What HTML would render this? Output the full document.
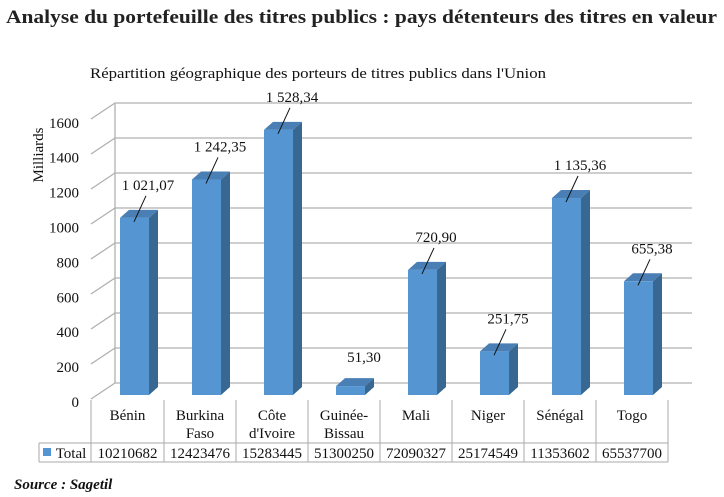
<!DOCTYPE html>
<html><head><meta charset="utf-8"><style>
body{margin:0;background:#fff;}
svg{display:block;font-family:"Liberation Serif",serif;}
</style></head><body>
<svg width="724" height="497" viewBox="0 0 724 497" xmlns="http://www.w3.org/2000/svg">
<text x="6" y="23" font-size="19" font-weight="bold" fill="#222" textLength="711" lengthAdjust="spacingAndGlyphs">Analyse du portefeuille des titres publics : pays détenteurs des titres en valeur</text>
<text x="90" y="78" font-size="15" fill="#111" textLength="456" lengthAdjust="spacingAndGlyphs">Répartition géographique des porteurs de titres publics dans l'Union</text>
<text transform="translate(43,155) rotate(-90)" text-anchor="middle" font-size="15" fill="#111">Milliards</text>
<g stroke="#b0b0b0" stroke-width="1.3" fill="none" id="grid"></g>
<g id="ticks" font-size="15" fill="#111" text-anchor="end"></g>
<g id="bars"></g>
<g id="tbl" stroke="#a8a8a8" stroke-width="1" fill="none"></g>
<g id="tt" font-size="15" fill="#111" text-anchor="middle"></g>
<text x="14" y="489" font-size="15" font-weight="bold" font-style="italic" fill="#111">Source : Sagetil</text>
</svg>
<script>
var ns="http://www.w3.org/2000/svg";
function el(p,t,a,txt){var e=document.createElementNS(ns,t);for(var k in a)e.setAttribute(k,a[k]);if(txt!=null)e.textContent=txt;document.getElementById(p).appendChild(e);return e;}
for(var i=0;i<=8;i++){var y=383-i*35;
 el("grid","path",{d:"M91 "+(y+16)+" L115 "+y+" L692 "+y});
 el("ticks","text",{x:79,y:402-i*34.9+5},String(i*200));}
el("grid","path",{d:"M115 103 L115 383"});
var vals=[1021.07,1242.35,1528.34,51.30,720.90,251.75,1135.36,655.38];
var labs=["1 021,07","1 242,35","1 528,34","51,30","720,90","251,75","1 135,36","655,38"];
for(var i=0;i<8;i++){var x=120+i*72,w=29,b=395,h=vals[i]*0.1735,t=b-h;
 el("bars","polygon",{points:(x+w)+","+t+" "+(x+w+9)+","+(t-8)+" "+(x+w+9)+","+(b-8)+" "+(x+w)+","+b,fill:"#386891"});
 el("bars","polygon",{points:x+","+t+" "+(x+9)+","+(t-8)+" "+(x+w+9)+","+(t-8)+" "+(x+w)+","+t,fill:"#4a7fb5"});
 el("bars","rect",{x:x,y:t,width:w,height:h,fill:"#5596d2"});
 if(vals[i]>200){el("bars","path",{d:"M"+(x+14)+" "+(t+4)+" L"+(x+26)+" "+(t-22),stroke:"#111","stroke-width":1,fill:"none"});
  el("tt","text",{x:x+28,y:t-28},labs[i]);}
 else el("tt","text",{x:x+28,y:t-24},labs[i]);}
var cols=[91,164,236,308,380,452,524,596,668];
for(var i=0;i<cols.length;i++)el("tbl","path",{d:"M"+cols[i]+" 400 L"+cols[i]+" 462"});
el("tbl","path",{d:"M39 443 L668 443 M39 462 L668 462 M39 443 L39 462"});
var names=[["Bénin"],["Burkina","Faso"],["Côte","d'Ivoire"],["Guinée-","Bissau"],["Mali"],["Niger"],["Sénégal"],["Togo"]];
var tot=["10210682","12423476","15283445","51300250","72090327","25174549","11353602","65537700"];
for(var i=0;i<8;i++){var cx=(cols[i]+cols[i+1])/2;
 for(var j=0;j<names[i].length;j++)el("tt","text",{x:cx,y:420+j*18},names[i][j]);
 el("tt","text",{x:cx,y:458},tot[i]);}
el("bars","rect",{x:43,y:448,width:8,height:8,fill:"#5596d2"});
el("tt","text",{x:71,y:458},"Total");
</script>
</body></html>
